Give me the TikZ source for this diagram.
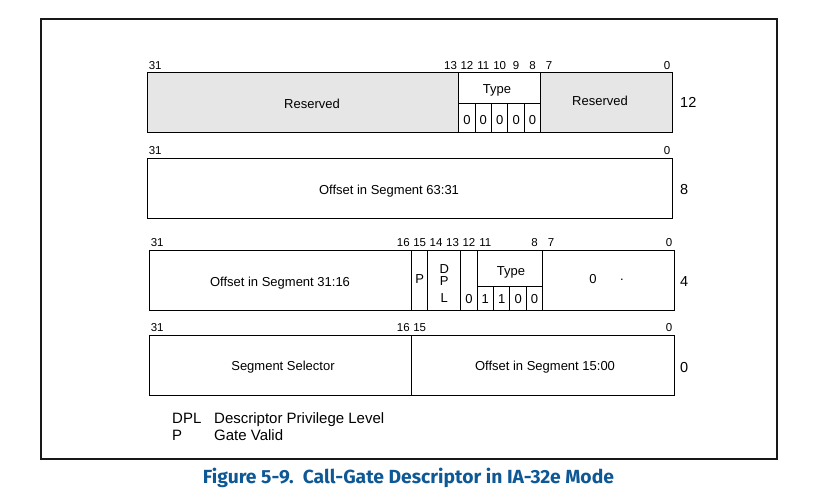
\documentclass[tikz,border=0pt]{standalone}
\usepackage{fontspec}
\usepackage{graphicx}
\setmainfont{Liberation Sans}
\newfontfamily\capfont{Fira Sans}
\definecolor{resgray}{RGB}{230,230,230}
\definecolor{capblue}{RGB}{14,88,150}

% bit width: 32 bits over 525 units
\def\bw{16.406}

\begin{document}
\begin{tikzpicture}[x=1pt,y=-1pt,
  frame/.style={draw=black!90,line width=1.2pt},
  regbox/.style={draw=black,line width=0.9pt},
  lbl/.style={inner sep=0pt,text height=0.716em,text depth=0pt,yshift=-1.5pt},
  txt/.style={lbl,font=\fontsize{13}{15}\selectfont},
  bitno/.style={lbl,font=\fontsize{11.5}{13}\selectfont},
  rowno/.style={lbl,anchor=west,font=\fontsize{14.5}{16}\selectfont},
  legend/.style={lbl,anchor=west,font=\fontsize{15}{17}\selectfont},
  caption/.style={inner sep=0pt,text height=0.7em,text depth=0pt,yshift=-2.5pt,text=capblue,font=\capfont\bfseries\fontsize{19}{21}\selectfont}
]
\useasboundingbox (0,0) rectangle (820,499);

% outer frame
\draw[frame] (41,19) rectangle (777,459);

% ---------- word at offset 12 ----------
\fill[resgray] (147,72) rectangle ({147+19*\bw},132);
\fill[resgray] ({147+24*\bw},72) rectangle (672,132);
\draw[regbox] (147,72) rectangle (672,132);
\draw[regbox] ({147+19*\bw},72) -- ({147+19*\bw},132);
\draw[regbox] ({147+24*\bw},72) -- ({147+24*\bw},132);
\draw[regbox] ({147+19*\bw},103) -- ({147+24*\bw},103);
\foreach \i in {20,...,23}
  \draw[regbox] ({147+\i*\bw},103) -- ({147+\i*\bw},132);
\node[txt] (w12resA) at (312,103) {Reserved};
\node[txt] (w12resB) at (600,100) {Reserved};
\node[txt] (w12type) at (497,88) {Type};
\foreach \b in {12,...,8}
  \node[txt] (w12z\b) at ({147+(31.5-\b)*\bw},119) {0};
\node[bitno] (w12b31) at ({147+0.5*\bw},64) {31};
\foreach \b in {13,...,7}
  \node[bitno] (w12b\b) at ({147+(31.5-\b)*\bw},64) {\b};
\node[bitno] (w12b0) at (667,64) {0};
\node[rowno] (w12) at (680,102) {12};

% ---------- word at offset 8 ----------
\draw[regbox] (147,158) rectangle (672,218);
\node[txt] (w8off) at (389,189) {Offset in Segment 63:31};
\node[bitno] (w8b31) at ({147+0.5*\bw},149) {31};
\node[bitno] (w8b0) at (667,149) {0};
\node[rowno] (w8) at (680,189) {8};

% ---------- word at offset 4 ----------
\draw[regbox] (149,250) rectangle (674,310);
\foreach \i in {16,17,19,20,24}
  \draw[regbox] ({149+\i*\bw},250) -- ({149+\i*\bw},310);
\draw[regbox] ({149+20*\bw},286) -- ({149+24*\bw},286);
\foreach \i in {21,22,23}
  \draw[regbox] ({149+\i*\bw},286) -- ({149+\i*\bw},310);
\node[txt] (w4off) at (280,281) {Offset in Segment 31:16};
\node[txt] (w4p) at ({149+16.5*\bw},278) {P};
\node[txt] (w4d) at ({149+18*\bw},268) {D};
\node[txt] (w4pp) at ({149+18*\bw},280) {P};
\node[txt] (w4l) at ({149+18*\bw},297) {L};
\node[txt] (w4z12) at ({149+19.5*\bw},298) {0};
\node[txt] (w4type) at (511,270) {Type};
\node[txt] (w4t11) at ({149+20.5*\bw},298) {1};
\node[txt] (w4t10) at ({149+21.5*\bw},298) {1};
\node[txt] (w4t9) at ({149+22.5*\bw},298) {0};
\node[txt] (w4t8) at ({149+23.5*\bw},298) {0};
\node[txt] (w4low) at (593,278) {0};
\node[txt] (w4dot) at (622,275) {.};
\node[bitno] (w4b31) at ({149+0.5*\bw},241) {31};
\foreach \b in {16,...,11}
  \node[bitno] (w4b\b) at ({149+(31.5-\b)*\bw},241) {\b};
\node[bitno] (w4b8) at ({149+23.5*\bw},241) {8};
\node[bitno] (w4b7) at ({149+24.5*\bw},241) {7};
\node[bitno] (w4b0) at (669,241) {0};
\node[rowno] (w4) at (680,281) {4};

% ---------- word at offset 0 ----------
\draw[regbox] (149,335) rectangle (674,395);
\draw[regbox] ({149+16*\bw},335) -- ({149+16*\bw},395);
\node[txt] (w0sel) at (283,365) {Segment Selector};
\node[txt] (w0off) at (545,365) {Offset in Segment 15:00};
\node[bitno] (w0b31) at ({149+0.5*\bw},326) {31};
\node[bitno] (w0b16) at ({149+15.5*\bw},326) {16};
\node[bitno] (w0b15) at ({149+16.5*\bw},326) {15};
\node[bitno] (w0b0) at (669,326) {0};
\node[rowno] (w0) at (680,367) {0};

% ---------- legend ----------
\node[legend] (kdpl) at (172,418) {DPL};
\node[legend] (kdpltxt) at (214,418) {Descriptor Privilege Level};
\node[legend] (kp) at (172,435) {P};
\node[legend] (kptxt) at (214,435) {Gate Valid};

% ---------- caption ----------
\node[caption] (cap) at (408.5,477) {\resizebox{411pt}{\height}{Figure 5-9.\ \ Call-Gate Descriptor in IA-32e Mode}};
\end{tikzpicture}
\end{document}
